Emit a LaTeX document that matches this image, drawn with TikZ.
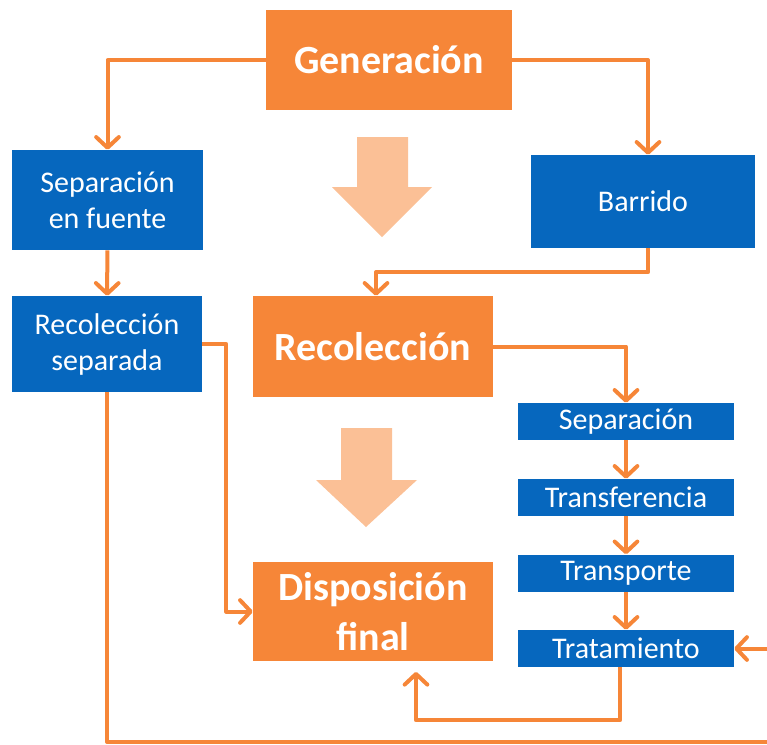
\documentclass[tikz,border=0pt]{standalone}
\usepackage{fontspec}
\setmainfont{Carlito}
\usepackage{tikz}
\usetikzlibrary{arrows.meta}

\definecolor{naranja}{RGB}{246,134,56}
\definecolor{azul}{RGB}{6,103,190}
\definecolor{flecha}{RGB}{251,192,150}

\begin{document}
\begin{tikzpicture}[x=0.75pt,y=-0.75pt,
    etapa/.style 2 args={fill=naranja,text=white,align=center,inner sep=0pt,
        minimum width={#1*0.75pt},minimum height={#2*0.75pt},
        font=\fontsize{30}{37.5}\selectfont\bfseries},
    tarea/.style 2 args={fill=azul,text=white,align=center,inner sep=0pt,
        minimum width={#1*0.75pt},minimum height={#2*0.75pt},
        font=\fontsize{22.5}{27}\selectfont},
    link/.style={draw=naranja,line width=3pt,line join=round,
        -{Straight Barb[round,length=8pt,width=17pt]}}]
    % Frame of the picture
    \useasboundingbox (0,0) rectangle (767,744);
    \clip (0,0) rectangle (767,744);

    % Main stages
    \node[etapa={246}{100}] (gen) at (389,60) {Generación};
    \node[etapa={240}{101}] (rec) at (373,346.5) {Recolección};
    \node[etapa={240}{99}] (disp) at (373,611.5) {Disposición\\final};

    % Side tasks
    \node[tarea={191}{100}] (sepf) at (107.5,200) {Separación\\en fuente};
    \node[tarea={224}{93}] (barr) at (643,201.5) {Barrido};
    \node[tarea={190}{96}] (recs) at (107,344) {Recolección\\separada};

    % Chain below the collection stage
    \node[tarea={216}{37}] (sep) at (626,421.5) {Separación};
    \node[tarea={216}{37}] (tra) at (626,497.5) {Transferencia};
    \node[tarea={216}{37}] (tsp) at (626,573) {Transporte};
    \node[tarea={216}{37}] (trt) at (626,648.5) {Tratamiento};

    % Big light arrows between stages
    \fill[flecha] (357,137) -- (408,137) -- (408,187) -- (432,187)
        -- (382,237) -- (332,187) -- (357,187) -- cycle;
    \fill[flecha] (341,428) -- (392,428) -- (392,480) -- (417,480)
        -- (366,527) -- (316,480) -- (341,480) -- cycle;

    % Connectors
    \draw[link] (gen.west) -| (sepf.north);
    \draw[link] (gen.east) -| ([xshift=3.75pt]barr.north);
    \draw[link] (sepf) -- (recs);
    \draw[link] ([xshift=3.75pt]barr.south) -- ++(0,24) -| ([xshift=2.25pt]rec.north);
    \draw[link] (recs.east) -- ++(24,0) |- (disp.west);
    \draw[link] (recs.south) |- (790,742) |- (trt.east);
    \draw[link] (rec.east) -| (sep.north);
    \draw[link] (sep) -- (tra);
    \draw[link] (tra) -- (tsp);
    \draw[link] (tsp) -- (trt);
    \draw[link,shorten >=8pt] ([xshift=-4.5pt]trt.south) -- ++(0,53)
        -| ([xshift=32.25pt]disp.south);
\end{tikzpicture}
\end{document}
